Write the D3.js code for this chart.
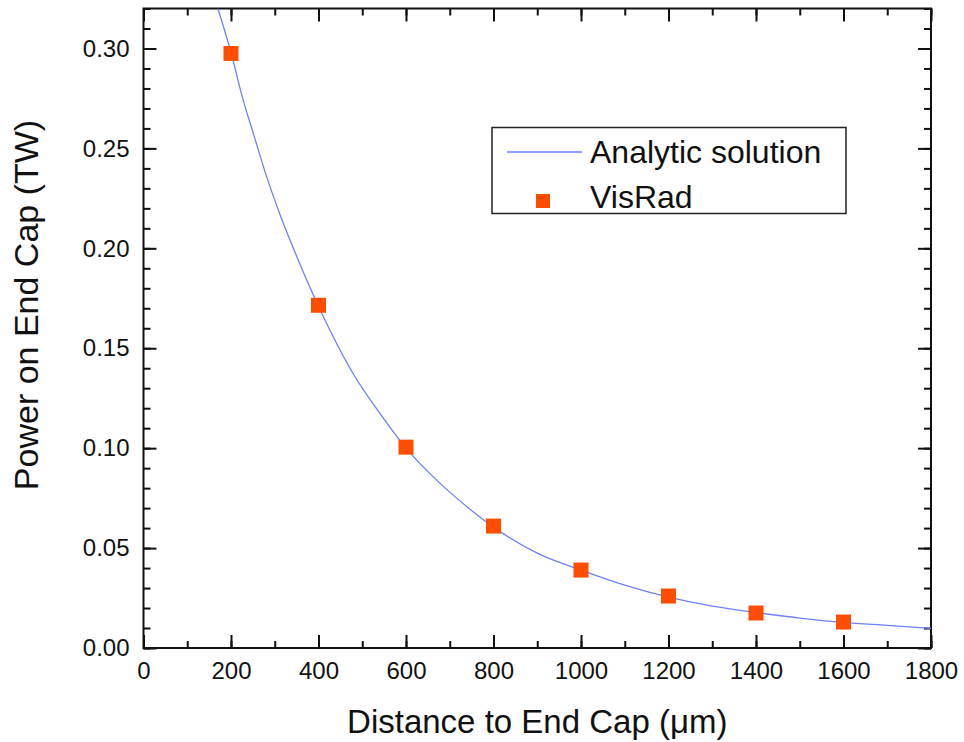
<!DOCTYPE html>
<html>
<head>
<meta charset="utf-8">
<script src="https://cdn.jsdelivr.net/npm/d3@7"></script>
<style>
  body { margin: 0; background: #fff; }
  text { font-family: "Liberation Sans", Arial, sans-serif; fill: #111; }
</style>
</head>
<body>
<div id="chart"></div>
<script>
// analytic curve
const curveDist = [170, 200, 228, 251, 282, 317, 351, 400, 480, 540, 600, 670, 700, 800, 900, 1000, 1100, 1200, 1300, 1400, 1500, 1600, 1700, 1800];
const curvePower = [0.32, 0.298, 0.274, 0.2575, 0.2355, 0.214, 0.1955, 0.171, 0.137, 0.1175, 0.1, 0.084, 0.078, 0.0605, 0.0475, 0.039, 0.0315, 0.0255, 0.021, 0.0178, 0.015, 0.0128, 0.0113, 0.0098];

// VisRad points
const visDist = [200, 400, 600, 800, 1000, 1200, 1400, 1600];
const visPower = [0.2975, 0.1715, 0.1005, 0.061, 0.039, 0.026, 0.0175, 0.013];

const xTicks = [0, 200, 400, 600, 800, 1000, 1200, 1400, 1600, 1800];
const yTicks = [0, 0.05, 0.10, 0.15, 0.20, 0.25, 0.30];

const width = 964, height = 742;
const margin = { top: 8.5, right: 33, bottom: 94, left: 143.5 };
const w = width - margin.left - margin.right;
const h = height - margin.top - margin.bottom;

const svg = d3.select("#chart").append("svg")
  .attr("width", width)
  .attr("height", height);

const g = svg.append("g")
  .attr("transform", `translate(${margin.left},${margin.top})`);

const x = d3.scaleLinear().domain([0, 1800]).range([0, w]);
const y = d3.scaleLinear().domain([0, 0.32]).range([h, 0]);

const xMinor = d3.range(0, 1801, 100);
const yMinor = d3.range(0, 33).map(i => i / 100);

function styleAxis(sel) {
  sel.select(".domain").remove();
  sel.selectAll(".tick line").attr("stroke", "#111").attr("stroke-width", 2);
  sel.selectAll(".tick text").style("font-size", "24px").attr("fill", "#111");
}

// minor ticks (all four sides)
g.append("g").attr("transform", `translate(0,${h})`)
  .call(d3.axisBottom(x).tickValues(xMinor).tickSize(-7).tickFormat("")).call(styleAxis);
g.append("g")
  .call(d3.axisTop(x).tickValues(xMinor).tickSize(-7).tickFormat("")).call(styleAxis);
g.append("g")
  .call(d3.axisLeft(y).tickValues(yMinor).tickSize(-7).tickFormat("")).call(styleAxis);
g.append("g").attr("transform", `translate(${w},0)`)
  .call(d3.axisRight(y).tickValues(yMinor).tickSize(-7).tickFormat("")).call(styleAxis);

// major ticks
g.append("g").attr("transform", `translate(0,${h})`)
  .call(d3.axisBottom(x).tickValues(xTicks).tickSize(-13).tickPadding(14).tickFormat(d3.format("d")))
  .call(styleAxis);
g.append("g")
  .call(d3.axisTop(x).tickValues(xTicks).tickSize(-13).tickFormat("")).call(styleAxis);
g.append("g")
  .call(d3.axisLeft(y).tickValues(yTicks).tickSize(-13).tickPadding(14).tickFormat(d3.format(".2f")))
  .call(styleAxis);
g.append("g").attr("transform", `translate(${w},0)`)
  .call(d3.axisRight(y).tickValues(yTicks).tickSize(-13).tickFormat("")).call(styleAxis);

// frame
g.append("rect")
  .attr("width", w).attr("height", h)
  .attr("fill", "none").attr("stroke", "#111").attr("stroke-width", 2);

g.append("clipPath").attr("id", "clip")
  .append("rect").attr("width", w).attr("height", h);

const line = d3.line()
  .x((d, i) => x(curveDist[i]))
  .y(d => y(d))
  .curve(d3.curveMonotoneX);

g.append("path")
  .datum(curvePower)
  .attr("clip-path", "url(#clip)")
  .attr("fill", "none")
  .attr("stroke", "#6f80ff")
  .attr("stroke-width", 1.3)
  .attr("d", line);

const sq = 15;
g.selectAll(".pt")
  .data(visPower)
  .join("rect")
  .attr("class", "pt")
  .attr("x", (d, i) => x(visDist[i]) - sq / 2)
  .attr("y", d => y(d) - sq / 2)
  .attr("width", sq).attr("height", sq)
  .attr("fill", "#ff4d00");

// legend
const leg = svg.append("g").attr("transform", "translate(492,127.5)");
leg.append("rect")
  .attr("width", 354).attr("height", 86)
  .attr("fill", "#fff").attr("stroke", "#222").attr("stroke-width", 1.5);
leg.append("line")
  .attr("x1", 15).attr("x2", 90).attr("y1", 24.5).attr("y2", 24.5)
  .attr("stroke", "#6f80ff").attr("stroke-width", 1.3);
leg.append("rect")
  .attr("x", 51 - 7).attr("y", 73.5 - 7).attr("width", 14).attr("height", 14)
  .attr("fill", "#ff4d00");
leg.append("text").attr("x", 98).attr("y", 35).style("font-size", "32px").text("Analytic solution");
leg.append("text").attr("x", 98).attr("y", 80).style("font-size", "32px").text("VisRad");

// axis titles
svg.append("text")
  .attr("x", margin.left + w / 2).attr("y", 733)
  .attr("text-anchor", "middle")
  .style("font-size", "33px")
  .text("Distance to End Cap (\u03bcm)");

svg.append("text")
  .attr("transform", "translate(38,305) rotate(-90)")
  .attr("text-anchor", "middle")
  .style("font-size", "34px")
  .text("Power on End Cap (TW)");
</script>
</body>
</html>
